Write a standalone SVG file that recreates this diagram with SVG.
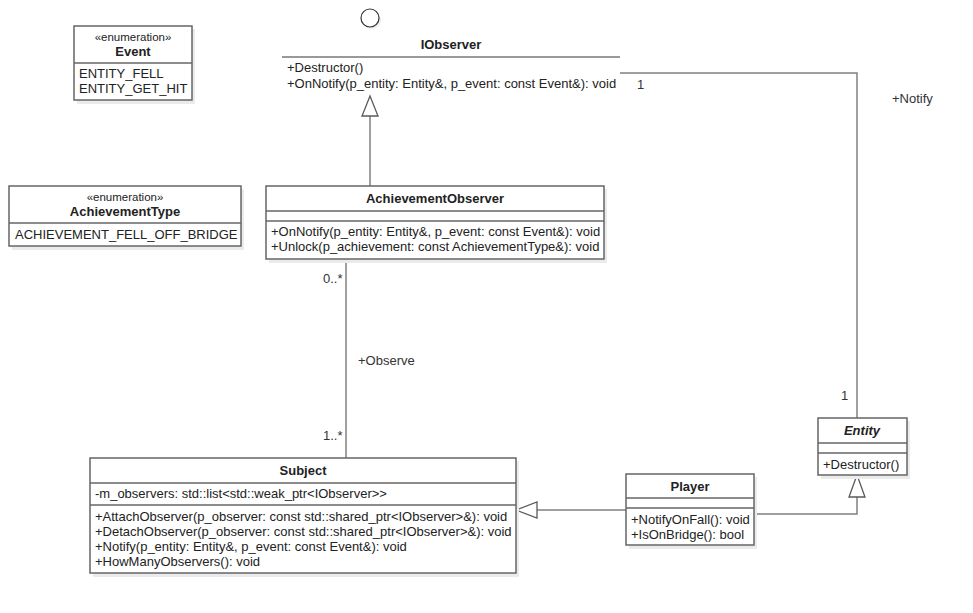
<svg xmlns="http://www.w3.org/2000/svg" width="973" height="613" viewBox="0 0 973 613">
<style>
.box{fill:#fff;stroke:#666;stroke-width:1.5}
.sh{fill:#ebebeb}
.sep{stroke:#666;stroke-width:1.5}
.edge{fill:none;stroke:#808080;stroke-width:1.5}
.tri{fill:#fff;stroke:#595959;stroke-width:1.3}
text{font-family:"Liberation Sans",Arial,sans-serif;font-size:13px;fill:#222}
.b{font-weight:bold;text-anchor:middle}
.c{text-anchor:middle}
.lbl{font-size:13px;fill:#333}
</style>
<rect width="973" height="613" fill="#fff"/>
<g id="connectors">
<path class="edge" d="M620 73 H857 V418"/>
<path class="edge" d="M370 186 V116"/>
<path class="tri" d="M370 96 L378 116 L362 116 Z"/>
<path class="edge" d="M346 259 V458"/>
<path class="edge" d="M626 510 H537"/>
<path class="tri" d="M516 510 L537 502 L537 518 Z"/>
<path class="edge" d="M754 514 H857 V497"/>
<path class="tri" d="M857 475 L865 497 L849 497 Z"/>
<text class="lbl" x="637" y="89">1</text>
<text class="lbl" x="892" y="103">+Notify</text>
<text class="lbl" x="841" y="400">1</text>
<text class="lbl" x="323" y="283">0..*</text>
<text class="lbl" x="358" y="365">+Observe</text>
<text class="lbl" x="323" y="440">1..*</text>
</g>
<g id="Event">
<rect class="sh" x="77" y="29" width="118" height="75"/>
<rect class="box" x="74" y="26" width="118" height="74"/>
<line class="sep" x1="74" y1="63" x2="192" y2="63"/>
<text class="c" x="133" y="41" style="font-size:11.5px">«enumeration»</text>
<text class="b" x="133" y="56">Event</text>
<text x="79" y="78">ENTITY_FELL</text>
<text x="79" y="93">ENTITY_GET_HIT</text>
</g>
<g id="IObserver">
<circle cx="372" cy="20" r="9" fill="#eee"/>
<circle cx="370" cy="18" r="9" fill="#fff" stroke="#333" stroke-width="1.2"/>
<text class="b" x="451" y="49">IObserver</text>
<line x1="282" y1="57" x2="620" y2="57" stroke="#777" stroke-width="1.5"/>
<text x="287" y="72">+Destructor()</text>
<text x="287" y="88">+OnNotify(p_entity: Entity&amp;, p_event: const Event&amp;): void</text>
</g>
<g id="AchievementType">
<rect class="sh" x="12" y="189" width="232" height="61"/>
<rect class="box" x="9" y="186" width="232" height="60"/>
<line class="sep" x1="9" y1="223" x2="241" y2="223"/>
<text class="c" x="125" y="201" style="font-size:11.5px">«enumeration»</text>
<text class="b" x="125" y="216">AchievementType</text>
<text x="15" y="239">ACHIEVEMENT_FELL_OFF_BRIDGE</text>
</g>
<g id="AchievementObserver">
<rect class="sh" x="269" y="189" width="338" height="74"/>
<rect class="box" x="266" y="186" width="338" height="73"/>
<line class="sep" x1="266" y1="211" x2="604" y2="211"/>
<line class="sep" x1="266" y1="221" x2="604" y2="221"/>
<text class="b" x="435" y="203">AchievementObserver</text>
<text x="271" y="236">+OnNotify(p_entity: Entity&amp;, p_event: const Event&amp;): void</text>
<text x="271" y="251">+Unlock(p_achievement: const AchievementType&amp;): void</text>
</g>
<g id="Subject">
<rect class="sh" x="93" y="461" width="426" height="116"/>
<rect class="box" x="90" y="458" width="426" height="115"/>
<line class="sep" x1="90" y1="483" x2="516" y2="483"/>
<line class="sep" x1="90" y1="505" x2="516" y2="505"/>
<text class="b" x="303" y="475">Subject</text>
<text x="95" y="498">-m_observers: std::list&lt;std::weak_ptr&lt;IObserver&gt;&gt;</text>
<text x="95" y="521">+AttachObserver(p_observer: const std::shared_ptr&lt;IObserver&gt;&amp;): void</text>
<text x="95" y="536">+DetachObserver(p_observer: const std::shared_ptr&lt;IObserver&gt;&amp;): void</text>
<text x="95" y="551">+Notify(p_entity: Entity&amp;, p_event: const Event&amp;): void</text>
<text x="95" y="566">+HowManyObservers(): void</text>
</g>
<g id="Player">
<rect class="sh" x="629" y="477" width="128" height="72"/>
<rect class="box" x="626" y="474" width="128" height="71"/>
<line class="sep" x1="626" y1="498" x2="754" y2="498"/>
<line class="sep" x1="626" y1="508" x2="754" y2="508"/>
<text class="b" x="690" y="491">Player</text>
<text x="631" y="524">+NotifyOnFall(): void</text>
<text x="631" y="539">+IsOnBridge(): bool</text>
</g>
<g id="Entity">
<rect class="sh" x="821" y="421" width="89" height="58"/>
<rect class="box" x="818" y="418" width="89" height="57"/>
<line class="sep" x1="818" y1="443" x2="907" y2="443"/>
<line class="sep" x1="818" y1="453" x2="907" y2="453"/>
<text class="b" x="862" y="435" style="font-style:italic">Entity</text>
<text x="823" y="469">+Destructor()</text>
</g>
</svg>
